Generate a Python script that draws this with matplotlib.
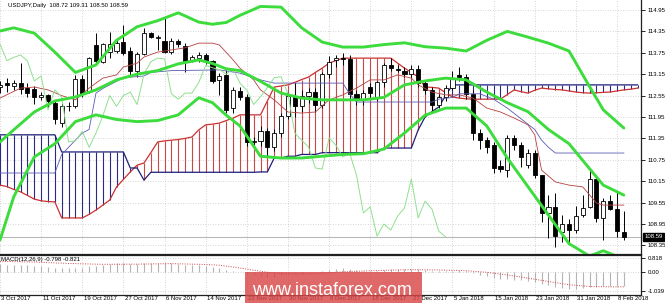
import matplotlib
matplotlib.use('Agg')
import matplotlib.pyplot as plt
import matplotlib.transforms as mtransforms
from matplotlib.patches import Rectangle
import numpy as np

# ---------------- data ----------------
title_text = "USDJPY,Daily  108.72 109.31 108.50 108.59"
macd_title = "MACD(12,26,9) -0.798 -0.821"

date_idx = [0, 6, 12, 18, 24, 30, 36, 42, 48, 54, 60, 66, 72, 78, 84, 90]
date_labels = ["3 Oct 2017", "11 Oct 2017", "19 Oct 2017", "27 Oct 2017", "6 Nov 2017",
               "14 Nov 2017", "22 Nov 2017", "30 Nov 2017", "8 Dec 2017", "18 Dec 2017",
               "27 Dec 2017", "5 Jan 2018", "15 Jan 2018", "23 Jan 2018", "31 Jan 2018",
               "8 Feb 2018"]
price_ticks = [114.95, 114.35, 113.75, 113.15, 112.55, 111.95, 111.35, 110.75,
               110.15, 109.55, 108.95, 108.35]
macd_ticks = [0.818, 0.0, -1.039]
macd_tick_labels = ["0.818", "0.00", "-1.039"]
last_price = 108.59

opens = [112.78, 112.91, 112.82, 112.90, 112.75, 112.73, 112.50, 112.57, 112.35, 111.79,
         112.26, 112.26, 113.02, 112.69, 113.97, 113.50, 113.76, 113.81, 114.06, 113.81,
         113.24, 113.72, 114.30, 114.16, 114.09, 113.78, 114.08, 113.94, 113.55, 113.60,
         113.69, 113.52, 112.99, 113.13, 112.20, 112.68, 112.51, 111.25, 111.28, 111.55,
         111.10, 111.50, 111.98, 112.55, 112.25, 112.55, 112.65, 112.30, 113.15, 113.55,
         113.60, 113.58, 112.60, 112.45, 112.79, 112.50, 112.92, 113.40, 113.30, 113.25,
         113.15, 113.30, 112.90, 112.70, 112.30, 112.52, 112.77, 113.12, 113.08, 112.60,
         111.50, 111.30, 111.16, 110.57, 110.46, 111.36, 111.16, 110.60, 110.94, 110.32,
         109.26, 109.43, 108.73, 108.95, 108.78, 109.20, 109.43, 110.21, 109.12, 109.59,
         109.37, 108.72]
highs = [112.95, 113.04, 112.99, 113.45, 112.89, 112.82, 112.66, 112.60, 112.43, 112.33,
         112.36, 113.13, 113.13, 113.64, 114.30, 114.03, 114.34, 114.16, 114.53, 113.92,
         113.78, 114.44, 114.32, 114.25, 114.76, 114.16, 114.13, 114.03, 113.69, 113.78,
         113.74, 113.55, 113.17, 113.27, 112.79, 112.78, 112.60, 111.40, 111.70, 111.65,
         111.60, 112.05, 112.60, 112.90, 112.70, 112.75, 112.75, 113.20, 113.65, 113.70,
         113.75, 113.70, 112.70, 112.70, 112.90, 112.95, 113.45, 113.60, 113.40, 113.35,
         113.40, 113.40, 112.95, 112.80, 112.60, 112.85, 113.25, 113.35, 113.15, 112.70,
         111.62, 111.40, 111.25, 110.75, 111.45, 111.45, 111.25, 111.05, 111.02, 110.32,
         109.76, 109.82, 109.20, 109.09, 109.45, 109.76, 110.52, 110.24, 109.68, 109.76,
         109.85, 109.31]
lows = [112.62, 112.66, 112.71, 112.60, 112.52, 112.31, 112.43, 112.24, 111.75, 111.68,
        112.12, 112.19, 112.52, 112.61, 113.46, 113.46, 113.60, 113.74, 113.69, 113.13,
        113.08, 113.69, 114.16, 113.83, 113.74, 113.72, 113.92, 113.22, 113.50, 113.48,
        113.44, 112.89, 112.57, 112.06, 112.06, 112.43, 111.15, 111.08, 111.15, 110.85,
        111.00, 111.40, 111.90, 111.95, 112.10, 112.35, 112.10, 112.20, 113.05, 113.35,
        113.40, 112.45, 112.30, 112.30, 112.45, 112.40, 112.80, 113.25, 113.20, 113.08,
        113.05, 112.80, 112.60, 112.05, 112.20, 112.40, 112.70, 112.95, 112.45, 111.30,
        111.05, 110.95, 110.38, 110.40, 110.27, 111.02, 110.55, 110.52, 110.24, 109.01,
        108.56, 108.31, 108.45, 108.42, 108.70, 109.15, 109.40, 109.01, 108.50, 109.34,
        108.58, 108.50]
closes = [112.85, 112.84, 112.90, 112.73, 112.61, 112.50, 112.57, 112.40, 111.89, 112.26,
          112.25, 113.02, 112.60, 113.60, 113.52, 113.99, 113.99, 114.02, 113.75, 113.24,
          113.71, 114.30, 114.20, 114.20, 113.76, 114.09, 113.99, 113.53, 113.62, 113.69,
          113.52, 112.96, 113.10, 112.15, 112.71, 112.51, 111.25, 111.28, 111.55, 111.10,
          111.50, 111.98, 112.55, 112.25, 112.55, 112.65, 112.30, 113.15, 113.50, 113.60,
          113.58, 112.60, 112.45, 112.62, 112.62, 112.92, 113.40, 113.33, 113.28, 113.15,
          113.30, 112.90, 112.70, 112.30, 112.52, 112.77, 113.05, 113.08, 112.60, 111.50,
          111.30, 111.11, 110.52, 110.49, 111.36, 111.16, 110.83, 110.94, 110.32, 109.26,
          109.43, 108.61, 108.95, 108.78, 109.17, 109.40, 110.21, 109.12, 109.59, 109.37,
          108.75, 108.59]

# Bollinger bands (read at sample bars)
bb_idx = [0, 2, 5, 8, 11, 14, 17, 20, 23, 26, 29, 31, 33, 35, 38, 41, 44, 47, 50, 53,
          56, 59, 62, 65, 68, 71, 74, 77, 80, 83, 86, 88, 91]
bb_upper = [114.36, 114.45, 114.30, 113.77, 113.20, 113.41, 114.10, 114.48, 114.65, 114.87,
            114.61, 114.55, 114.60, 114.80, 115.05, 115.03, 114.45, 114.05, 113.91, 113.91,
            113.98, 114.03, 113.92, 113.88, 113.80, 114.10, 114.35, 114.19, 114.02, 113.80,
            112.80, 112.15, 111.64]
bb_mid = [111.25, 111.59, 112.09, 112.40, 112.51, 112.71, 112.99, 113.15, 113.25, 113.44,
          113.55, 113.45, 113.30, 113.25, 112.95, 112.62, 112.48, 112.43, 112.43, 112.43,
          112.50, 112.85, 112.96, 113.04, 112.99, 112.65, 112.35, 112.10, 111.60, 111.20,
          110.50, 110.04, 109.76]
bb_lower = [108.50, 109.71, 110.83, 111.20, 111.82, 112.01, 111.88, 111.82, 111.85, 112.01,
            112.49, 112.35, 112.00, 111.70, 110.85, 110.80, 110.80, 110.85, 110.90, 110.92,
            111.05, 111.50, 112.00, 112.20, 112.20, 111.70, 110.80, 110.00, 109.20, 108.40,
            108.05, 108.20, 107.96]

# Ichimoku
tenkan_idx = [0, 3, 5, 7, 9, 11, 13, 14, 15, 17, 18, 20, 21, 23, 25, 27, 29, 31, 32, 34,
              35, 37, 38, 40, 42, 44, 46, 48, 50, 52, 54, 56, 58, 60, 61, 63, 65, 67, 69, 71,
              73, 75, 77, 78, 79, 81, 83, 85, 87, 88, 91]
tenkan_val = [112.48, 112.76, 112.79, 112.71, 112.55, 112.43, 112.76, 112.90, 113.04, 113.13,
              113.35, 113.46, 113.63, 113.77, 113.83, 113.89, 114.02, 114.02, 113.97, 113.55,
              113.32, 112.99, 112.71, 112.43, 112.09, 112.06, 112.09, 112.43, 112.57, 112.76,
              112.99, 112.99, 113.13, 113.04, 112.85, 112.65, 112.57, 112.57, 112.48, 112.20,
              112.09, 111.92, 111.73, 111.45, 110.46, 110.13, 110.04, 109.99, 109.54, 109.48,
              109.48]
kijun_idx = [0, 8, 9, 10, 11, 12, 13, 14, 15, 16, 17, 18, 21, 22, 25, 32, 35, 38, 40, 50,
             51, 52, 63, 64, 66, 67, 70, 72, 74, 76, 78, 79, 80, 81, 91]
kijun_val = [110.38, 110.38, 110.90, 111.10, 111.30, 111.50, 111.60, 112.62, 112.75, 112.85,
             112.95, 113.05, 113.10, 113.20, 113.25, 113.27, 113.18, 112.99, 112.90, 112.90,
             112.60, 112.37, 112.37, 112.45, 112.50, 112.60, 112.60, 112.45, 112.20, 111.90,
             111.60, 111.30, 111.10, 110.94, 110.94]
chikou_shift = 26

span_a = [110.04, 110.00, 109.92, 109.85, 109.75, 109.65, 109.60, 109.58, 109.57, 109.12,
          109.12, 109.12, 109.12, 109.22, 109.34, 109.48, 109.62, 109.99, 110.20, 110.41,
          110.60, 110.66, 110.95, 111.25, 111.28, 111.30, 111.32, 111.35, 111.39, 111.59,
          111.73, 111.75, 111.78, 111.85, 111.92, 112.01, 112.01, 112.01, 112.01, 112.40,
          112.79, 112.82, 112.85, 112.92, 113.00, 113.07, 113.20, 113.32, 113.46, 113.53,
          113.60, 113.60, 113.60, 113.60, 113.60, 113.60, 113.60, 113.60, 113.46, 113.32,
          113.20, 113.07, 112.79, 112.78, 112.76, 112.63, 112.51, 112.48, 112.46, 112.45,
          112.45, 112.45, 112.45, 112.45, 112.58, 112.71, 112.66, 112.62, 112.70, 112.76,
          112.74, 112.72, 112.71, 112.68, 112.65, 112.63, 112.62, 112.63, 112.64, 112.65,
          112.68, 112.71, 112.73, 112.76]
span_b = [111.45] * 9 + [110.97] * 10 + [110.52] * 2 + [110.18] + [110.40] * 16 + \
         [110.41] * 2 + [110.80] * 2 + [110.85] * 2 + [110.90] * 3 + [110.95] * 9 + \
         [111.08] * 5 + [111.59, 111.95, 112.10, 112.23, 112.55] + [112.85] * 28

# MACD
macd_hist = [0.45, 0.44, 0.43, 0.42, 0.40, 0.37, 0.34, 0.31, 0.27, 0.25,
             0.23, 0.27, 0.27, 0.33, 0.38, 0.43, 0.47, 0.50, 0.50, 0.47,
             0.47, 0.51, 0.53, 0.54, 0.52, 0.50, 0.48, 0.44, 0.41, 0.39,
             0.36, 0.28, 0.23, 0.12, 0.08, 0.03, -0.10, -0.18, -0.22, -0.27,
             -0.25, -0.18, -0.10, -0.07, -0.03, 0.00, 0.02, 0.08, 0.15, 0.20,
             0.23, 0.18, 0.12, 0.10, 0.08, 0.09, 0.13, 0.16, 0.18, 0.19,
             0.20, 0.17, 0.13, 0.08, 0.06, 0.06, 0.09, 0.11, 0.08, -0.04,
             -0.14, -0.22, -0.32, -0.40, -0.40, -0.42, -0.46, -0.48, -0.54, -0.66,
             -0.74, -0.84, -0.90, -0.94, -0.93, -0.90, -0.82, -0.84, -0.80, -0.78,
             -0.80, -0.80]
signal_idx = [0, 5, 10, 15, 20, 25, 30, 32, 34, 36, 38, 40, 43, 46, 50, 55, 60, 64, 68, 71,
              74, 77, 80, 83, 86, 89, 91]
signal_val = [0.62, 0.58, 0.50, 0.45, 0.46, 0.49, 0.44, 0.40, 0.30, 0.18, 0.06, -0.05, -0.10,
              -0.08, 0.03, 0.10, 0.15, 0.13, 0.09, 0.00, -0.15, -0.33, -0.52, -0.70, -0.80,
              -0.82, -0.82]

# ---------------- figure ----------------
W, H = 665, 304
fig = plt.figure(figsize=(W / 100, H / 100), dpi=100)
fig.patch.set_facecolor('white')
SMALL = ['Liberation Sans', 'DejaVu Sans']
FS = 4.3


def fx(px):
    return px / W


def fy(py):
    return 1 - py / H


ax = fig.add_axes([0, fy(254), fx(641), 254 / H])
ax2 = fig.add_axes([0, fy(295), fx(641), 40 / H])

x0, x1 = 0.334, 93.5
ax.set_xlim(x0, x1)
ax2.set_xlim(x0, x1)
ax.set_ylim(108.109, 115.230)
ax2.set_ylim(-1.282, 0.977)

grid_kw = dict(color='#c8c8c8', linestyle=(0, (1, 2)), linewidth=0.6)
for a in (ax, ax2):
    a.set_xticks(date_idx)
    a.tick_params(axis='x', length=0, labelbottom=False)
    a.grid(True, **grid_kw)
    a.set_axisbelow(True)
    a.yaxis.tick_right()
    for s in ('top', 'left'):
        a.spines[s].set_visible(False)
    for s in ('right', 'bottom'):
        a.spines[s].set_color('#202020')
        a.spines[s].set_linewidth(0.9)
ax2.spines['top'].set_visible(True)
ax2.spines['top'].set_color('#202020')
ax2.spines['top'].set_linewidth(0.9)

ax.set_yticks(price_ticks)
ax.set_yticklabels([f"{v:.2f}" for v in price_ticks])
ax2.set_yticks(macd_ticks)
ax2.set_yticklabels(macd_tick_labels)
for a in (ax, ax2):
    a.tick_params(axis='y', length=3, width=0.6, pad=1.5, labelsize=FS, colors='black')
    for t in a.get_yticklabels():
        t.set_family(SMALL)

# Ichimoku cloud hatching
cidx = np.arange(len(span_a))
sa = np.array(span_a)
sb = np.array(span_b)
hatch_cols = ['#c84848' if a_ >= b_ else '#2a2a86' for a_, b_ in zip(sa, sb)]
ax.vlines(cidx, sa, sb, colors=hatch_cols, linewidth=0.8, zorder=1)
ax.plot(cidx, sa, color='#cc3030', lw=0.9, zorder=2)
ax.plot(cidx, sb, color='#1e1e7a', lw=0.9, zorder=2)

# current price line
ax.axhline(last_price, color='#b8b8b8', lw=0.8, zorder=1.5)

# candles
idx = np.arange(len(opens))
o = np.array(opens); h = np.array(highs); l = np.array(lows); c = np.array(closes)
bull = c >= o
ax.vlines(idx, l, h, color='black', lw=0.7, zorder=4)
bottom = np.minimum(o, c)
height = np.maximum(np.abs(c - o), 0.004)
ax.bar(idx[bull], height[bull], bottom=bottom[bull], width=0.6, facecolor='white',
       edgecolor='black', linewidth=0.6, zorder=4.5)
ax.bar(idx[~bull], height[~bull], bottom=bottom[~bull], width=0.6, facecolor='black',
       edgecolor='black', linewidth=0.6, zorder=4.5)

# thin ichimoku lines
ax.plot(tenkan_idx, tenkan_val, color='#b84040', lw=0.6, zorder=5)
ax.plot(kijun_idx, kijun_val, color='#5a5ab4', lw=0.6, zorder=5)
ch = np.array(closes[chikou_shift:])
ax.plot(np.arange(len(ch)), ch, color='#8fe08f', lw=0.7, zorder=5)

# Bollinger bands
for vals in (bb_upper, bb_mid, bb_lower):
    ax.plot(bb_idx, vals, color='#3cdc3c', lw=2.1, zorder=6, solid_capstyle='round')

# last price label
ax.text(1.005, last_price, f"{last_price:.2f}", transform=mtransforms.blended_transform_factory(
    ax.transAxes, ax.transData), ha='left', va='center', fontsize=FS, family=SMALL,
    color='white', bbox=dict(facecolor='black', edgecolor='black', pad=0.9), zorder=10,
    clip_on=False)

# MACD panel
ax2.vlines(idx, 0, macd_hist, color='#b4b4b4', lw=0.8, zorder=2)
ax2.plot(signal_idx, signal_val, color='#d04848', lw=0.7, linestyle=(0, (1, 1.5)), zorder=3)
fig.text(fx(1), fy(260), macd_title, fontsize=FS, family=SMALL, va='center', ha='left')

# title
fig.text(fx(8), fy(5), title_text, fontsize=FS, family=SMALL, va='center', ha='left')

# date labels
trans = mtransforms.blended_transform_factory(ax2.transData, fig.transFigure)
for b, lab in zip(date_idx, date_labels):
    ax2.text(b + 0.2, fy(298.5), lab, transform=trans, fontsize=FS, family=SMALL,
             ha='left', va='center', clip_on=False)

# watermark
fig.patches.append(Rectangle((fx(245), fy(303)), fx(422) - fx(245), (303 - 272) / H,
                             transform=fig.transFigure, facecolor='#d84848', alpha=0.82,
                             edgecolor='none', zorder=20))
fig.text(fx(252), fy(295), "www.instaforex.com", fontsize=13, color='white',
         family=['Liberation Sans', 'DejaVu Sans'], ha='left', va='baseline', zorder=21)

fig.savefig('out.png', dpi=100)
